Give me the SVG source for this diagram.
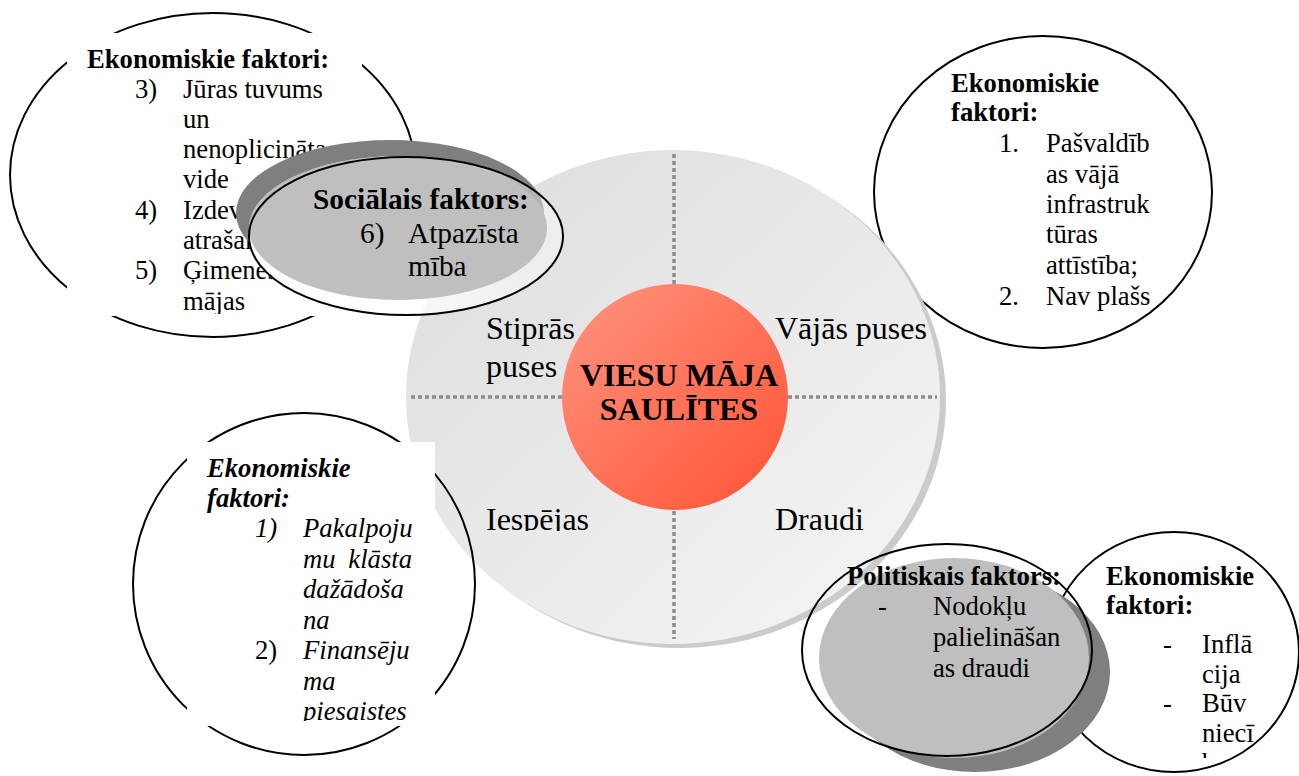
<svg xmlns="http://www.w3.org/2000/svg" width="1299" height="776" viewBox="0 0 1299 776">
<defs>
<style>
.t{font-family:"Liberation Serif","Times New Roman",serif;fill:#000}
.s20{font-size:26.67px}
.s22{font-size:29.33px}
.s24{font-size:32px}
.b{font-weight:bold}
.i{font-style:italic}
.ol{fill:none;stroke:#000;stroke-width:2}
.dot{stroke:#8c8c8c;stroke-width:3.5;stroke-dasharray:4 3;fill:none}
.shadow{fill:#7f7f7f}
.fillg{fill:#bfbfbf}
</style>
<linearGradient id="bigGrad" x1="0" y1="0" x2="1" y2="1">
<stop offset="0" stop-color="#dcdcdc"/>
<stop offset="1" stop-color="#f6f6f6"/>
</linearGradient>
<linearGradient id="redGrad" x1="0" y1="0" x2="1" y2="1">
<stop offset="0" stop-color="#ff9580"/>
<stop offset="1" stop-color="#ff5233"/>
</linearGradient>
<linearGradient id="socGrad" x1="0" y1="0" x2="1" y2="0">
<stop offset="0.35" stop-color="#fff" stop-opacity="1"/>
<stop offset="0.9" stop-color="#fff" stop-opacity="0.4"/>
</linearGradient>
<clipPath id="clipTL"><rect x="67" y="33" width="295" height="281"/></clipPath>
<clipPath id="clipBL"><rect x="187" y="442" width="248" height="279"/></clipPath>
<clipPath id="clipBR"><rect x="1090" y="560" width="180" height="198"/></clipPath>
<clipPath id="clipQ"><rect x="400" y="480" width="560" height="51"/></clipPath>
</defs>
<rect width="1299" height="776" fill="#fff"/>

<g id="top-left-econ">
<ellipse class="ol" cx="213" cy="175" rx="203" ry="162"/>
<rect x="67" y="33" width="295" height="283" fill="#fff"/>
<g clip-path="url(#clipTL)" class="t s20">
<text x="87" y="68" class="b">Ekonomiskie faktori:</text>
<text x="135" y="98">3)</text><text x="183" y="98">Jūras tuvums</text>
<text x="183" y="128">un</text>
<text x="183" y="158">nenoplicināta</text>
<text x="183" y="188">vide</text>
<text x="135" y="219">4)</text><text x="183" y="219">Izdevīga</text>
<text x="183" y="249">atrašanās</text>
<text x="135" y="279">5)</text><text x="183" y="279">Ģimenes</text>
<text x="183" y="310">mājas</text>
</g>
</g>

<g id="top-right-econ">
<ellipse class="ol" cx="1043" cy="192" rx="169" ry="156"/>
<g class="t s20">
<text x="951" y="92" class="b">Ekonomiskie</text>
<text x="951" y="121" class="b">faktori:</text>
<text x="999" y="152">1.</text><text x="1046" y="152">Pašvaldīb</text>
<text x="1046" y="183">as vājā</text>
<text x="1046" y="213">infrastruk</text>
<text x="1046" y="243">tūras</text>
<text x="1046" y="274">attīstība;</text>
<text x="999" y="305">2.</text><text x="1046" y="305">Nav plašs</text>
</g>
</g>

<g id="swot-center">
<ellipse cx="679" cy="401" rx="267" ry="247" fill="#cbcbcb"/>
<ellipse cx="673" cy="397" rx="267" ry="247" fill="url(#bigGrad)"/>
<g id="connectors">
<line class="dot" x1="674" y1="154" x2="674" y2="284"/>
<line class="dot" x1="674" y1="511" x2="674" y2="639"/>
<line class="dot" x1="411" y1="397" x2="562" y2="397"/>
<line class="dot" x1="788" y1="397" x2="937" y2="397"/>
</g>
<circle cx="675" cy="397" r="113" fill="url(#redGrad)"/>
<g class="t s24">
<text x="486" y="339">Stiprās</text>
<text x="486" y="377">puses</text>
<text x="775" y="339">Vājās puses</text>
<g clip-path="url(#clipQ)">
<text x="486" y="530">Iespējas</text>
<text x="775" y="530">Draudi</text>
</g>
<text x="679" y="386" text-anchor="middle" class="b">VIESU MĀJA</text>
<text x="679" y="420" text-anchor="middle" class="b">SAULĪTES</text>
</g>
</g>

<g id="social">
<ellipse class="shadow" cx="390" cy="213" rx="154" ry="73"/>
<ellipse class="fillg" cx="398" cy="228" rx="149" ry="72"/>
<ellipse cx="406" cy="236" rx="157" ry="79" fill="url(#socGrad)"/>
<ellipse class="fillg" cx="398" cy="228" rx="149" ry="72"/>
<ellipse class="ol" cx="406" cy="236" rx="157" ry="79"/>
<g class="t s22">
<text x="313" y="209" class="b">Sociālais faktors:</text>
<text x="360" y="243">6)</text><text x="408" y="243">Atpazīsta</text>
<text x="408" y="276">mība</text>
</g>
</g>

<g id="bottom-left-econ">
<ellipse class="ol" cx="304" cy="584" rx="171" ry="171"/>
<rect x="187" y="442" width="248" height="284" fill="#fff"/>
<g clip-path="url(#clipBL)" class="t s20">
<text x="207" y="477" class="b i">Ekonomiskie</text>
<text x="207" y="507" class="b i">faktori:</text>
<text x="255" y="537" class="i">1)</text><text x="303" y="537" class="i">Pakalpoju</text>
<text x="303" y="568" class="i">mu</text><text x="412" y="568" class="i" text-anchor="end">klāsta</text>
<text x="303" y="598" class="i">dažādoša</text>
<text x="303" y="629" class="i">na</text>
<text x="255" y="659">2)</text><text x="303" y="659" class="i">Finansēju</text>
<text x="303" y="690" class="i">ma</text>
<text x="303" y="720" class="i">piesaistes</text>
</g>
</g>

<g id="bottom-right-econ">
<ellipse class="ol" cx="1174" cy="652" rx="125" ry="120"/>
<g clip-path="url(#clipBR)" class="t s20">
<text x="1106" y="585" class="b">Ekonomiskie</text>
<text x="1106" y="614" class="b">faktori:</text>
<text x="1163" y="653">-</text><text x="1202" y="653">Inflā</text>
<text x="1202" y="683">cija</text>
<text x="1163" y="712">-</text><text x="1202" y="712">Būv</text>
<text x="1202" y="742">niecī</text>
<text x="1202" y="772">ba</text>
</g>
</g>

<g id="political">
<ellipse class="shadow" cx="975" cy="672" rx="135" ry="100"/>
<ellipse class="fillg" cx="954" cy="658" rx="135" ry="100"/>
<ellipse class="ol" cx="947" cy="650" rx="145" ry="106"/>
<g class="t s20">
<text x="847" y="585" class="b">Politiskais faktors:</text>
<text x="878" y="615">-</text><text x="933" y="615">Nodokļu</text>
<text x="933" y="646">palielināšan</text>
<text x="933" y="677">as draudi</text>
</g>
</g>
</svg>
